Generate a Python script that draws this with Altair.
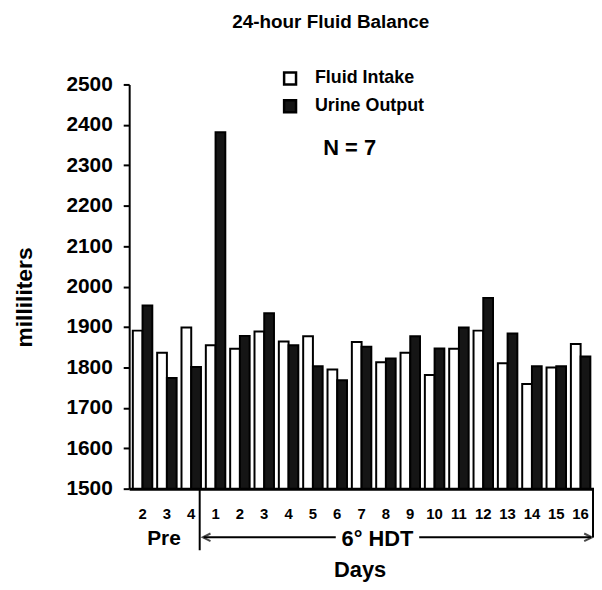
import altair as alt
import pandas as pd

# ---- data ----
day_keys = ["P2", "P3", "P4"] + [f"H{i}" for i in range(1, 17)]
fluid_intake = [1891, 1836, 1899,
                1855, 1846, 1889, 1864, 1877, 1795, 1863, 1813,
                1836, 1781, 1846, 1891, 1810, 1759, 1800, 1858]
urine_output = [1953, 1774, 1801,
                2382, 1878, 1934, 1855, 1803, 1768, 1851, 1822,
                1877, 1847, 1899, 1972, 1884, 1803, 1803, 1827]
series_names = ["Fluid Intake", "Urine Output"]
y_ticks = list(range(1500, 2501, 100))

rows = []
for k, a, b in zip(day_keys, fluid_intake, urine_output):
    rows.append({"day": k, "series": series_names[0], "ml": a})
    rows.append({"day": k, "series": series_names[1], "ml": b})
df = pd.DataFrame(rows)

FONT = "Liberation Sans"
W, H = 468, 407

bars = alt.Chart(df).mark_bar(stroke="black", strokeWidth=2).encode(
    x=alt.X("day:N", sort=day_keys,
            scale=alt.Scale(paddingInner=0.2, paddingOuter=0.15),
            axis=alt.Axis(title="Days", labelExpr="substring(datum.label, 1)",
                          labelAngle=0, ticks=False, labelPadding=18,
                          labelFont=FONT, labelFontSize=15, labelFontWeight="bold",
                          labelColor="black", domainColor="black", domainWidth=3,
                          titleFont=FONT, titleFontSize=22, titleFontWeight="bold",
                          titleColor="black", titleY=81, titleX=232,
                          titleBaseline="middle")),
    xOffset=alt.XOffset("series:N", sort=series_names),
    y=alt.Y("ml:Q", scale=alt.Scale(domain=[1500, 2500], zero=False, nice=False),
            axis=alt.Axis(title="milliliters", values=y_ticks, grid=False, format="d",
                          tickColor="black", tickWidth=2, tickSize=6,
                          domainColor="black", domainWidth=2,
                          labelFont=FONT, labelFontSize=21, labelFontWeight="bold",
                          labelColor="black", labelPadding=11,
                          titleFont=FONT, titleFontSize=23, titleFontWeight="bold",
                          titleColor="black", titleAngle=-90, titleX=-105, titleY=214,
                          titleAlign="center", titleBaseline="middle")),
    y2=alt.datum(1500),
    fill=alt.Fill("series:N", sort=series_names,
                  scale=alt.Scale(domain=series_names, range=["white", "#151515"]),
                  legend=alt.Legend(title=None, orient="none", legendX=153, legendY=-15,
                                    symbolType="square", symbolSize=144,
                                    symbolStrokeColor="black", symbolStrokeWidth=2.5,
                                    labelFont=FONT, labelFontSize=18, labelFontWeight="bold",
                                    labelColor="black", rowPadding=6, labelOffset=16)),
)

one = alt.Data(values=[{}])

def text(s, x, y, size, **kw):
    return alt.Chart(one).mark_text(text=s, font=FONT, fontSize=size, fontWeight="bold",
                                    color="black", baseline="middle", **kw).encode(
        x=alt.value(x), y=alt.value(y))

def rule(x, x2, y, y2, w=2):
    return alt.Chart(one).mark_rule(color="black", strokeWidth=w).encode(
        x=alt.value(x), x2=alt.value(x2), y=alt.value(y), y2=alt.value(y2))

def head(x, path):
    return alt.Chart(one).mark_point(filled=False, stroke="black", strokeWidth=2,
                                     size=60, shape=path).encode(
        x=alt.value(x), y=alt.value(456))

n_text = text("N = 7", 222, 64, 22)
pre_text = text("Pre", 35, 458, 21)
hdt_text = text("6° HDT", 250, 458, 22)

left_v = rule(71, 71, H, 469)
right_v = rule(467, 467, H, 456)
arrow_l = rule(75, 208, 456, 456)
arrow_r = rule(292, 465, 456, 456)
head_l = head(78, "M 1 -1 L -1 0 L 1 1")
head_r = head(462, "M -1 -1 L 1 0 L -1 1")

chart = alt.layer(bars, n_text, pre_text, hdt_text, left_v, right_v,
                  arrow_l, arrow_r, head_l, head_r).properties(
    width=W, height=H,
    title=alt.TitleParams("24-hour Fluid Balance", font=FONT, fontSize=19,
                          fontWeight="bold", color="black", anchor="middle",
                          dx=-31, offset=38),
    autosize=alt.AutoSizeParams(type="none"),
    padding={"left": 122, "top": 75, "right": 0, "bottom": 92},
).configure_view(stroke=None)

chart.save("out.html", embed_options={"renderer": "svg", "actions": False})
